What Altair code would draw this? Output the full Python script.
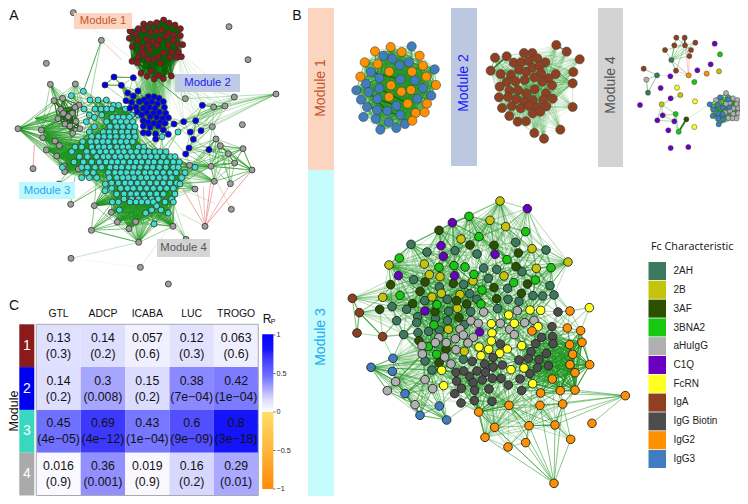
import altair as alt
import pandas as pd
import numpy as np

alt.data_transformers.disable_max_rows()
W, H = 732, 488
SX = alt.Scale(domain=[8, 740], range=[0, W], nice=False, zero=False)
SY = alt.Scale(domain=[8, 496], range=[0, H], nice=False, zero=False)

# ---------- colours of characteristics ----------
C = {"2AH": "#3b7a5e", "2B": "#c4c40a", "3AF": "#2a5000", "3BNA2": "#16c80f", "aHuIgG": "#b0b0b0",
     "C1Q": "#6a00bf", "FcRN": "#ffff22", "IgA": "#8f4020", "IgG Biotin": "#4d4d4d", "IgG2": "#ff9000", "IgG3": "#3f7dc0"}
legend_names = list(C)

# ---------- Panel A layout (read at 3x from the picture) ----------
A_grey = [(220,38),(687,80),(304,121),(744,179),(139,190),(151,253),(226,252),(828,282),(703,291),(556,296),(641,321),(675,318),
 (727,374),(637,380),(54,386),(124,390),(162,302),(188,295),(237,315),(225,322),(182,328),(217,340),(205,350),(190,340),(174,356),
 (195,372),(210,378),(228,364),(240,386),(218,400),(128,413),(178,437),(165,423),(139,450),(170,468),(99,506),(192,497),(194,515),
 (235,507),(212,613),(283,617),(334,637),(352,666),(407,665),(387,686),(274,691),(416,727),(519,679),(558,718),(615,679),(694,628),
 (585,567),(643,544),(691,551),(756,510),(633,499),(704,489),(685,461),(729,446),(661,437),(648,417),(569,496),(213,775),(421,802),(505,852)]
A_blue = [(342,231),(400,233),(315,255),(364,256),(383,279),(414,273),(378,302),(400,288),(395,307),(445,290),(462,290),(477,295),
 (432,300),(455,305),(490,305),(418,305),(440,310),(472,312),(408,322),(430,325),(448,322),(465,325),(493,322),(390,325),(412,335),
 (440,337),(460,340),(478,337),(497,340),(425,345),(450,350),(470,352),(488,355),(505,353),(430,362),(445,367),(462,370),(480,368),
 (495,370),(430,378),(450,382),(475,378),(490,390),(430,398),(445,400),(467,402),(505,403),(467,417),(607,316),(522,372),(551,365),
 (587,362),(571,396),(603,392),(580,418),(567,444),(627,449),(557,462)]
A_teal_rows = {
 287:[214], 274:[250], 300:[270,294,319], 316:[341,356], 327:[252,285,303,320,336,376], 345:[268,305,395,415], 352:[283,337,354,370,388],
 365:[259,320,345,362,380,398], 380:[283,330,350,368,388,405], 396:[268,310,328,346,365,383,402,534], 410:[275,295,312,330,348,368,386,405,486],
 425:[248,272,290,308,325,345,362,380,398], 441:[225,245,275,295,312,330,350,368,385,415,432], 455:[215,260,280,300,318,336,355,372,392,410,430,447,465,480,498],
 470:[238,262,290,310,325,345,362,380,398,418,435,452,470,490,512,525], 486:[222,250,275,298,318,335,352,370,390,408,425,445,462,482,500,520,538],
 502:[187,245,262,285,305,330,348,365,385,402,420,440,458,478,498,520,535,585], 518:[260,280,325,345,362,380,398,415,435,452,470,490,510,528,555],
 533:[245,268,290,328,350,368,385,402,422,440,458,478,495,515,545], 549:[335,355,375,392,412,430,450,470,490,510,530],
 552:[177,316,540], 565:[335,362,382,400,420,440,460,480,500,520], 572:[315], 582:[350,372,392,410,430,450,470,490,525], 597:[372,395,415,435,455,475,515],
 606:[337,355,390,408,425,443,460,495,520], 618:[470], 630:[358,455,483], 639:[437,505], 672:[462]}
A_teal = [(x, y) for y, xs in A_teal_rows.items() for x in xs]
A_red = [(491,60),(431,72),(470,68),(451,72),(507,69),(525,75),(541,86),(415,86),(390,93),(432,90),(452,97),(470,93),(485,90),(505,100),(520,104),
 (541,107),(407,102),(388,115),(413,120),(440,118),(458,125),(478,118),(497,110),(520,120),(533,132),(548,134),(397,140),(425,142),(445,135),(472,135),
 (505,135),(425,157),(450,150),(491,158),(515,155),(535,155),(415,170),(432,165),(460,178),(445,178),(475,170),(510,172),(531,172),(544,170),(396,184),
 (412,188),(482,190),(423,220),(454,213),(441,229),(462,237),(476,226),(490,236),(514,228)]

# ---------- Panel B layouts ----------
B1_orange = [(302,141),(255,154),(335,156),(389,167),(224,187),(263,192),(399,197),(298,215),(366,215),(211,230),(409,230),(303,256),(438,255),(334,275),
 (363,270),(297,291),(353,311),(411,311),(377,339),(404,337),(367,362)]
B1_blue = [(365,139),(280,167),(307,176),(357,187),(329,196),(434,208),(243,216),(268,234),(331,238),(374,241),(228,251),(268,265),(399,264),(199,271),
 (236,276),(424,287),(213,299),(262,297),(382,296),(319,317),(231,321),(261,330),(292,333),(331,345),(220,351),(257,357),(296,367),(345,372),(319,384),(271,389)]
B2_brown = [(799,135),(830,155),(869,178),(702,159),(727,159),(650,169),(615,173),(742,175),(766,187),(671,188),(694,187),(716,183),(602,212),(687,209),(708,215),
 (727,203),(749,198),(850,216),(632,222),(663,224),(753,220),(797,222),(775,235),(848,250),(650,246),(677,244),(704,240),(733,232),(757,245),(629,260),(786,256),
 (658,272),(684,271),(709,280),(734,268),(768,280),(627,292),(654,291),(679,298),(703,305),(728,300),(760,300),(788,296),(741,322),(848,321),(636,324),(665,318),
 (692,325),(718,318),(769,319),(658,348),(728,340),(751,335),(683,365),(708,364),(811,389),(733,399),(762,416)]
B4 = {"IgA":[(1159,113),(1184,113),(1216,128),(1153,136),(1185,136),(1203,150),(1125,150),(1198,168),(1158,212),(1061,206)],
 "2AH":[(1144,180),(1101,226),(1074,278)],
 "aHuIgG":[(1069,239),(1308,279),(1278,300),(1329,295),(1342,300),(1318,310),(1340,312),(1353,312),(1308,312),(1330,325),(1345,325),(1355,328),(1320,332),(1305,338),(1330,342),(1345,340),(1315,354),(1328,355),(1340,355)],
 "IgG3":[(1290,292),(1315,298),(1259,313),(1283,315),(1270,328),(1298,323),(1318,322),(1285,340),(1268,348),(1298,342),(1285,355),(1300,358),(1286,373)],
 "C1Q":[(1274,131),(1366,184),(1262,193),(1222,211),(1141,229),(1112,264),(1050,315),(1142,295),(1118,346),(1102,361),(1153,364),(1135,391),(1142,444),(1195,441)],
 "3BNA2":[(1290,163),(1213,246),(1157,342),(1166,395)], "2B":[(1287,214),(1171,285),(1115,313)], "IgG2":[(1196,226),(1250,221)],
 "FcRN":[(1161,263),(1215,304),(1213,381)], "3AF":[(1189,358)]}
B3 = {"2AH":[(243,223),(291,246),(375,242),(441,252),(648,240),(557,217),(461,294),(500,298),(576,305),(251,329),(475,325),(328,351),(401,343),(533,355),(660,347),(284,392),(352,388),(419,371),(441,388),(534,388),(609,377),(638,378),(672,375),(567,394),(186,410),(230,418),(356,424),(422,425),(503,416),(200,452),(263,440),(260,458),(352,452),(404,464),(316,445),(264,488),(296,484),(328,480),(221,494),(285,573),(306,600),(400,568)],
 "2B":[(510,93),(480,151),(527,170),(393,207),(606,236),(714,276),(177,285),(283,282),(619,295),(298,314),(330,320),(522,318),(429,333),(158,382),(306,381),(334,370),(390,374),(382,415),(355,478),(403,544)],
 "3AF":[(327,181),(420,225),(492,226),(565,249),(558,290),(182,344),(285,336),(370,340),(492,353),(592,342),(270,364),(574,370),(500,386),(149,418),(248,401),(380,392),(410,402),(315,425),(387,443),(267,512),(348,538),(327,578)],
 "3BNA2":[(417,139),(587,185),(447,200),(208,264),(531,269),(327,292),(372,287),(405,291),(663,293),(432,313),(616,330),(551,338),(456,360),(210,376),(321,404),(453,402),(312,465),(320,553),(295,530)],
 "C1Q":[(592,116),(367,158),(333,227),(340,259),(495,253),(205,317),(374,317),(285,423),(449,486)],
 "aHuIgG":[(562,422),(461,426),(423,452),(445,460),(511,460),(584,458),(612,451),(390,477),(400,495),(430,502),(326,503),(539,478),(553,494),(376,506),(316,518),(349,518),(414,519),(276,527),(277,552),(378,539),(344,561),(363,582),(285,629),(308,656),(197,635),(172,662),(255,704)],
 "FcRN":[(778,413),(600,420),(632,421),(536,435),(484,461),(553,460),(624,470),(486,489),(484,513),(575,527),(447,531),(476,538),(532,537),(509,550),(453,557),(582,594),(543,599),(335,601),(341,647),(608,641)],
 "IgG Biotin":[(684,426),(666,470),(635,502),(668,500),(669,521),(617,521),(511,522),(603,545),(649,550),(489,562),(427,574),(567,570),(595,566),(627,569),(464,582),(489,591),(517,585),(655,587),(622,593),(378,607),(401,603),(441,603),(466,607),(600,611),(419,620),(380,634),(429,638),(457,630),(487,625),(513,625),(570,627),(394,655),(374,671),(434,661),(477,657),(535,645),(575,661),(433,692),(393,699),(486,694)],
 "IgG2":[(720,423),(712,474),(606,483),(752,482),(756,517),(719,524),(728,553),(720,584),(779,584),(735,608),(667,627),(632,669),(691,662),(735,660),(630,706),(698,702),(537,706),(446,726),(886,677),(675,765),(786,760),(597,767),(494,772),(465,802),(722,808),(587,818),(534,831),(672,940)],
 "IgA":[(67,385),(88,428),(81,489),(158,500)],
 "IgG3":[(189,565),(123,592),(187,604),(225,671),(328,708),(270,736),(350,750)]}

# ---------- Panel C values ----------
assays = ["GTL", "ADCP", "ICABA", "LUC", "TROGO"]
modules = ["1", "2", "3", "4"]
module_colors = ["#8b1a1a", "#0000f0", "#38d8c0", "#aaaaaa"]
rp = [[0.13,0.14,0.057,0.12,0.063],[0.14,0.3,0.15,0.38,0.42],[0.45,0.69,0.43,0.6,0.8],[0.016,0.36,0.019,0.16,0.29]]
pv = [["(0.3)","(0.2)","(0.6)","(0.3)","(0.6)"],["(0.2)","(0.008)","(0.2)","(7e\u221204)","(1e\u221204)"],
      ["(4e\u221205)","(4e\u221212)","(1e\u221204)","(9e\u221209)","(3e\u221218)"],["(0.9)","(0.001)","(0.9)","(0.2)","(0.01)"]]
cbar_ticks = [1, 0.5, 0, -0.5, -1]
cbar_labels = ["1", "0.5", "0", "\u22120.5", "\u22121"]

# ---------- edges ----------
GREEN, DARK, RED = "#1f961f", "#0a6400", "#e88080"
edges = []
def seg(o, p, q, a, c=GREEN, w=1.0):
    edges.append((o[0]+p[0]/3, o[1]+p[1]/3, o[0]+q[0]/3, o[1]+q[1]/3, c, a, w))
def fan(o, nodes, hub, box, a, c=GREEN, w=1.0):
    for n in nodes:
        if box[0] <= n[0] <= box[2] and box[1] <= n[1] <= box[3] and n != hub:
            seg(o, hub, n, a, c, w)
def web(o, nodes, step, reach, a, c=GREEN, w=1.0):
    for h in nodes[::step]:
        fan(o, nodes, h, (h[0]-reach, h[1]-reach, h[0]+reach, h[1]+reach), a, c, w)

OA = (0, 0)
A_all = A_grey + A_blue + A_teal
for hub, box, a in [((54,386),(100,290,245,520),.5),((151,253),(100,290,240,400),.4),((226,252),(160,290,300,350),.4),
    ((756,510),(630,420,760,560),.6),((729,446),(600,420,760,520),.5),((828,282),(556,296,720,400),.3),((703,291),(560,300,680,400),.25),
    ((641,321),(520,300,680,400),.35),((675,318),(520,300,680,400),.35),((637,380),(540,330,660,480),.4),((643,544),(520,470,650,560),.45),
    ((633,499),(520,430,760,560),.45),((685,461),(560,420,760,560),.45),((661,437),(560,420,760,560),.45),((704,489),(560,420,760,560),.45),((648,417),(540,420,760,560),.4),
    ((416,727),(270,590,530,700),.45),((274,691),(280,600,420,730),.55),((519,679),(340,560,540,680),.45),((558,718),(480,600,540,700),.3),
    ((283,617),(290,520,450,620),.5),((334,637),(320,560,520,650),.5),((352,666),(320,560,520,650),.5),((407,665),(320,560,520,650),.5),((387,686),(320,560,520,650),.5),
    ((124,390),(150,300,300,520),.45),((128,413),(150,350,300,520),.45),((139,450),(170,400,320,530),.45),((170,468),(190,400,340,540),.45),((192,497),(200,400,340,540),.45),
    ((194,515),(200,400,340,540),.45),((107,355),(130,300,240,450),.4),((585,567),(480,500,560,600),.3),((569,496),(480,430,560,560),.35)]:
    fan(OA, A_all, hub, box, a)
web(OA, A_teal, 3, 75, .4, GREEN, 1.3)
web(OA, A_blue, 3, 70, .4)
web(OA, A_grey[16:30], 1, 60, .6, DARK)
web(OA, A_red, 2, 170, .4, DARK, 1.2)
for h in A_red[-8:]:
    fan(OA, A_blue, h, (380,270,510,410), .08)
for h in [(514,228),(490,236),(535,155)]:
    fan(OA, A_all, h, (550,290,720,390), .14)
for p, q, a, c in [((304,121),(250,274),.8,GREEN),((304,121),(365,180),.5,RED),((395,180),(545,300),.8,GREEN),((304,121),(270,298),.4,GREEN),
    ((99,506),(103,435),.7,RED),((213,775),(416,727),.25,GREEN),((421,802),(530,650),.15,GREEN),((421,802),(213,775),.05,GREEN),
    ((212,613),(315,552),.7,GREEN),((212,613),(225,530),.5,GREEN),((212,613),(335,520),.3,GREEN),((558,718),(540,690),.5,GREEN),
    ((315,255),(342,231),.7,GREEN),((364,256),(315,255),.7,GREEN),((342,231),(400,233),.7,GREEN),((607,316),(641,321),.7,GREEN),((641,321),(675,318),.7,GREEN),
    ((615,679),(545,562),.7,RED),((615,679),(590,572),.5,RED),((615,679),(632,548),.7,RED),((615,679),(643,544),.6,RED),((615,679),(691,551),.6,RED),((615,679),(756,510),.8,RED),
    ((615,679),(610,560),.5,RED),((694,628),(650,545),.4,RED),((615,679),(540,640),.25,GREEN),((645,610),(550,570),.2,GREEN),((828,282),(640,330),.4,GREEN),
    ((220,38),(400,180),.12,GREEN)]:
    seg(OA, p, q, a, c)

OB = (290, 0)
B1_all = B1_orange + B1_blue
web(OB, B1_all, 2, 300, .25)
for p, q in [((231,321),(331,345)),((262,297),(319,317)),((236,276),(292,333)),((268,265),(353,311)),((243,216),(331,238))]:
    seg(OB, p, q, .8, DARK, 1.6)
web(OB, B2_brown[3:55], 5, 110, .2)
for h in [(799,135),(830,155),(869,178),(850,216),(848,250),(848,321),(811,389),(733,399),(762,416)]:
    fan(OB, B2_brown, h, (680,150,810,400), .12, GREEN, .9)
for h in [(602,212),(615,173),(636,324),(658,348)]:
    fan(OB, B2_brown, h, (600,160,780,360), .1)
for p, q, a, c, w in [((650,169),(602,212),.8,DARK,1.6),((615,173),(602,212),.5,GREEN,1),((799,135),(830,155),.7,DARK,1.4),((658,348),(762,416),.2,GREEN,.9)]:
    seg(OB, p, q, a, c, w)
# module 4
fan(OB, B4["IgA"], (1144,180), (1100,100,1220,220), .4)
fan(OB, B4["IgA"], (1185,136), (1100,100,1220,220), .35)
for p, q, a, c, w in [((1144,180),(1196,226),.6,RED,.9),((1196,226),(1185,136),.5,RED,.9),((1196,226),(1198,168),.5,RED,.9),((1158,212),(1196,226),.3,GREEN,.9),
    ((1189,358),(1166,395),.9,DARK,1.8),((1101,226),(1069,239),.5,GREEN,.9),((1069,239),(1074,278),.6,GREEN,.9),((1074,278),(1101,226),.6,GREEN,.9),
    ((1061,206),(1101,226),.5,GREEN,.9),((1101,226),(1196,226),.15,GREEN,.9),((1115,313),(1157,342),.4,GREEN,.9),((1115,313),(1118,346),.4,GREEN,.9),((1115,313),(1102,361),.4,GREEN,.9),
    ((1157,342),(1153,364),.5,GREEN,.9),((1157,342),(1166,395),.5,GREEN,.9),((1118,346),(1157,342),.4,GREEN,.9),((1118,346),(1153,364),.4,GREEN,.9),((1102,361),(1153,364),.4,GREEN,.9),
    ((1153,364),(1166,395),.4,GREEN,.9),((1189,358),(1259,313),.2,GREEN,.9),((1142,295),(1115,313),.2,GREEN,.9),((1171,285),(1115,313),.3,GREEN,.9),((1213,246),(1262,193),.15,GREEN,.9),
    ((1290,163),(1250,221),.15,GREEN,.9),((1184,113),(1185,136),.9,DARK,1.6),((1144,180),(1158,212),.25,GREEN,.9),((1196,226),(1144,180),.3,RED,.9)]:
    seg(OB, p, q, a, c, w)
cl = B4["aHuIgG"][1:] + B4["IgG3"]
web(OB, cl, 2, 60, .4)
seg(OB, (1318,310), (1330,342), .9, DARK, 1.6)

OC = (330, 170)
B3_all = [n for v in B3.values() for n in v]
for hub, box, a in [((510,93),(300,130,720,320),.3),((592,116),(480,130,720,300),.35),((714,276),(480,220,680,400),.3),((177,285),(150,220,460,420),.3),
    ((158,382),(180,250,400,480),.25),((67,385),(140,300,300,420),.3),((88,428),(150,380,300,520),.22),((123,592),(170,560,360,760),.5),((350,750),(170,560,330,740),.5),
    ((270,736),(170,560,330,740),.4),((197,635),(180,480,400,700),.18),((189,565),(200,480,400,650),.2),((172,662),(200,480,400,650),.15),((225,671),(250,560,420,700),.18),
    ((672,940),(440,700,760,830),.55),((886,677),(590,650,800,780),.5),((779,584),(600,480,780,700),.6),((756,517),(600,480,780,700),.6),((735,660),(600,480,780,700),.6),
    ((667,627),(560,480,780,700),.6),((691,662),(560,480,780,700),.55),((728,553),(560,480,780,700),.55),((720,584),(560,480,780,700),.55),((719,524),(560,480,780,700),.55),((735,608),(560,480,780,700),.55),
    ((446,726),(380,600,700,720),.35),((537,706),(380,600,700,780),.35),((494,772),(420,620,720,780),.3),((465,802),(420,620,720,780),.3),((597,767),(440,640,730,770),.35),
    ((722,808),(500,650,730,800),.3),((534,831),(440,680,640,800),.25),((587,818),(440,680,640,800),.25),((675,765),(500,620,760,770),.3),
    ((243,223),(180,220,420,400),.25),((367,158),(200,180,500,350),.25),((327,181),(220,180,500,350),.25),((417,139),(300,150,620,340),.28),((480,151),(300,150,620,340),.25)]:
    fan(OC, B3_all, hub, box, a)
web(OC, B3_all, 2, 85, .33, GREEN, 1.2)
for p, q, a in [((81,489),(67,385),.6),((67,385),(88,428),.7),((88,428),(81,489),.6),((158,500),(88,428),.7),((684,426),(720,423),.7),((720,423),(778,413),.5),((446,726),(537,706),.8),((537,706),(597,767),.8)]:
    seg(OC, p, q, a)

edf = pd.DataFrame(edges, columns=["x","y","x2","y2","c","a","w"])

# ---------- nodes ----------
rows = []
def add(o, pts, fill, size, stroke="#333333", sw=0.8):
    for p in pts:
        rows.append((o[0]+p[0]/3, o[1]+p[1]/3, fill, size, stroke, sw))
add(OA, A_grey, "#9e9e9e", 36)
add(OA, A_teal, "#40e0d0", 36)
add(OA, A_blue, "#0000f0", 36)
add(OA, A_red, "#8b1a1a", 36)
add(OB, B1_blue, C["IgG3"], 84, "#444444", .6)
add(OB, B1_orange, C["IgG2"], 84, "#444444", .6)
add(OB, B2_brown, C["IgA"], 84, "#444444", .6)
for k, v in B4.items():
    add(OB, v, C[k], 26, "#444444", .5)
for k, v in B3.items():
    add(OC, v, C[k], 74, "#222222", .9)
ndf = pd.DataFrame(rows, columns=["x","y","f","s","st","sw"])

edge_layer = alt.Chart(edf).mark_rule().encode(
    x=alt.X("x:Q", scale=SX, axis=None), y=alt.Y("y:Q", scale=SY, axis=None), x2="x2:Q", y2="y2:Q",
    color=alt.Color("c:N", scale=None), opacity=alt.Opacity("a:Q", scale=None), strokeWidth=alt.StrokeWidth("w:Q", scale=None))
node_layer = alt.Chart(ndf).mark_point(filled=True, opacity=1, shape="circle").encode(
    x=alt.X("x:Q", scale=SX, axis=None), y=alt.Y("y:Q", scale=SY, axis=None),
    fill=alt.Fill("f:N", scale=None), size=alt.Size("s:Q", scale=None),
    stroke=alt.Stroke("st:N", scale=None), strokeWidth=alt.StrokeWidth("sw:Q", scale=None))

# ---------- annotation boxes and texts ----------
boxes = pd.DataFrame([(74,132,13,29,"#fbd5c0",1),(175,240,74,92,"#bcc8e0",.95),(19,75,182,199,"#bff7ff",1),(157,210,239,257,"#d3d3d3",.95),
    (308,334,8,170,"#fbd5c0",1),(308,334,170,496,"#c6fcfc",1),(451,477,8,166,"#bcc8e0",1),(598,623,8,167,"#d3d3d3",1)],
    columns=["x","x2","y","y2","c","a"])
box_layer = alt.Chart(boxes).mark_rect().encode(
    x=alt.X("x:Q", scale=SX, axis=None), x2="x2:Q", y=alt.Y("y:Q", scale=SY, axis=None), y2="y2:Q",
    color=alt.Color("c:N", scale=None), opacity=alt.Opacity("a:Q", scale=None))
OR_, BL, CY, GY = "#c8532a", "#1a1aff", "#22a8ee", "#555555"
labels = pd.DataFrame([("A",14,16,14,"#111111",0),("B",297,16,14,"#111111",0),("C",14,306,14,"#111111",0),
    ("Module 1",103,21,11.3,OR_,0),("Module 2",207.5,83,11.3,BL,0),("Module 3",47,190.5,11.3,CY,0),("Module 4",183.5,248,11.3,GY,0),
    ("Module 1",321,88,14,OR_,270),("Module 2",464,83,14,BL,270),("Module 4",611,85,14,GY,270),("Module 3",321,337,14,CY,270),
    ("Module",13.5,411,12.5,"#111111",270),("R",267,319,12,"#111111",0),("P",273,322,7,"#111111",0)],
    columns=["t","x","y","s","c","a"])
text_layer = alt.Chart(labels).mark_text(font="Liberation Sans", align="center", baseline="middle").encode(
    x=alt.X("x:Q", scale=SX, axis=None), y=alt.Y("y:Q", scale=SY, axis=None), text="t:N",
    size=alt.Size("s:Q", scale=None), color=alt.Color("c:N", scale=None), angle=alt.Angle("a:Q", scale=None))

# ---------- Panel C heatmap ----------
hm = pd.DataFrame([{"col": a, "mod": m, "r": rp[i][j], "p": pv[i][j]} for i, m in enumerate(modules) for j, a in enumerate(assays)])
hm["rt"] = [f"{v:g}" for v in hm["r"]]
hx = alt.X("col:N", sort=assays, axis=None, scale=alt.Scale(domain=assays, range=[36.3-8, 258.3-8], paddingInner=0, paddingOuter=0))
hy = alt.Y("mod:N", sort=modules, axis=None, scale=alt.Scale(domain=modules, range=[324.3-8, 495.5-8], paddingInner=0, paddingOuter=0))
HEAT = alt.Scale(domain=[-1, 0, 0.15, 0.45, 0.8, 1], range=["#ff8c00", "#ffffff", "#dcdcff", "#7070ff", "#1414f8", "#0000ff"])
heat = alt.Chart(hm).mark_rect().encode(x=hx, y=hy, color=alt.Color("r:Q", scale=HEAT, legend=None))
h1 = alt.Chart(hm).mark_text(font="Liberation Sans", fontSize=12.3, dy=-8, color="#111111").encode(x=hx, y=hy, text="rt:N")
h2 = alt.Chart(hm).mark_text(font="Liberation Sans", fontSize=12.3, dy=8, color="#111111").encode(x=hx, y=hy, text="p:N")
frame = alt.Chart(pd.DataFrame({"a": [0]})).mark_rect(fill=None, stroke="#aaaaaa", strokeWidth=1).encode(
    x=alt.value(36.3-8), x2=alt.value(258.3-8), y=alt.value(324.3-8), y2=alt.value(495.5-8))
head = alt.Chart(pd.DataFrame({"col": assays})).mark_text(font="Liberation Sans", fontSize=10.4, color="#111111").encode(x=hx, y=alt.value(314-8), text="col:N")
mdf = pd.DataFrame({"mod": modules, "c": module_colors})
strip = alt.Chart(mdf).mark_rect().encode(x=alt.value(19.3-8), x2=alt.value(34.3-8), y=hy, color=alt.Color("c:N", scale=None))
striptxt = alt.Chart(mdf).mark_text(font="Liberation Sans", fontSize=14, color="white").encode(x=alt.value(26.8-8), y=hy, text="mod:N")

# colour bar
cb = pd.DataFrame({"v": np.arange(-1, 1, 0.02)})
cb["v2"] = cb["v"] + 0.03
cy = alt.Scale(domain=[-1, 1], range=[489-8, 335-8], nice=False, zero=False)
bar = alt.Chart(cb).mark_rect().encode(x=alt.value(262.3-8), x2=alt.value(273.3-8), y=alt.Y("v:Q", scale=cy, axis=None), y2="v2:Q",
    color=alt.Color("v:Q", scale=HEAT, legend=None))
tk = pd.DataFrame({"v": cbar_ticks, "t": cbar_labels})
ticks = alt.Chart(tk).mark_rule(color="#333333", strokeWidth=.7).encode(x=alt.value(273.3-8), x2=alt.value(275.5-8), y=alt.Y("v:Q", scale=cy, axis=None))
tklab = alt.Chart(tk).mark_text(font="Liberation Sans", fontSize=7.2, align="left", color="#222222").encode(x=alt.value(276.5-8), y=alt.Y("v:Q", scale=cy, axis=None), text="t:N")

# ---------- legend ----------
ldf = pd.DataFrame({"n": legend_names, "c": [C[n] for n in legend_names]})
ly = alt.Y("n:N", sort=legend_names, axis=None, scale=alt.Scale(domain=legend_names, range=[262-8, 468-8], paddingInner=0.04, paddingOuter=0))
swatch = alt.Chart(ldf).mark_rect().encode(x=alt.value(648.5-8), x2=alt.value(666-8), y=ly, color=alt.Color("c:N", scale=None))
ltxt = alt.Chart(ldf).mark_text(font="Liberation Sans", fontSize=10, align="left", color="#222222").encode(x=alt.value(673.5-8), y=ly, text="n:N")
ltitle = alt.Chart(pd.DataFrame({"t": ["Fc Characteristic"]})).mark_text(font="Open Sans", fontSize=10.8, align="left", color="#111111").encode(
    x=alt.value(651-8), y=alt.value(247-8), text="t:N")

chart = alt.layer(edge_layer, node_layer, box_layer, text_layer, heat, frame, h1, h2, head, strip, striptxt, bar, ticks, tklab, swatch, ltxt, ltitle
    ).resolve_scale(x="independent", y="independent", color="independent"
    ).properties(width=W, height=H, padding=0, autosize=alt.AutoSizeParams(type="none"), background="white"
    ).configure_view(stroke=None)
chart.save("out.html", embed_options={"renderer": "svg", "actions": False})
